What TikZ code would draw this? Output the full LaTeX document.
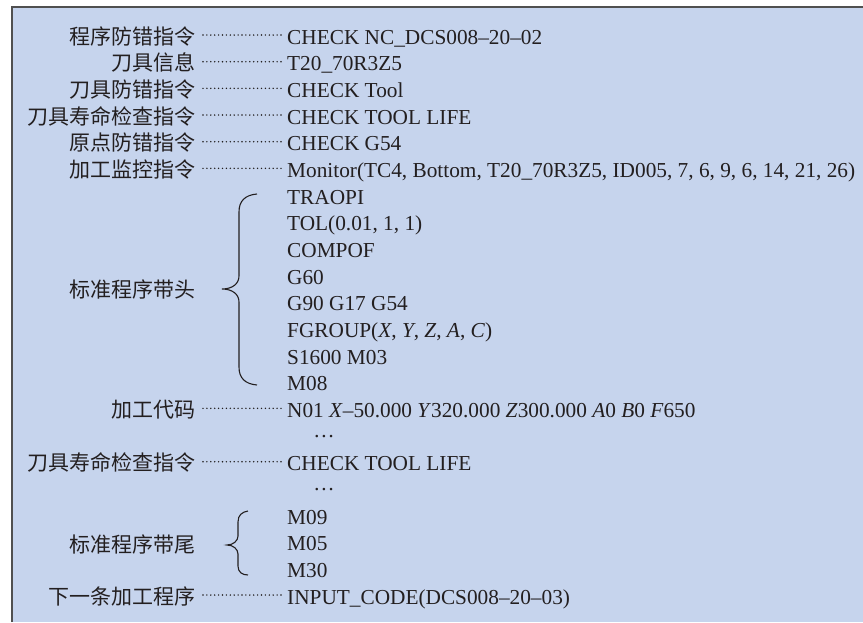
\documentclass[tikz,border=0pt]{standalone}
\usepackage{fontspec}
\setmainfont{Liberation Serif}
\newfontfamily\cjk{Noto Sans CJK SC}
\definecolor{boxfill}{RGB}{198,212,237}
\definecolor{boxline}{RGB}{80,80,80}
\definecolor{txt}{RGB}{35,31,32}
\begin{document}
\begin{tikzpicture}[x=1pt,y=-1pt,
  lab/.style={anchor=east,inner sep=0pt,text height=17pt,text depth=3pt,font=\fontsize{21pt}{24pt}\cjk,text=txt},
  code/.style={anchor=west,inner sep=0pt,text height=17pt,text depth=3pt,font=\fontsize{21.3pt}{24pt}\selectfont,text=txt},
  dotsnode/.style={anchor=base,inner sep=0pt,font=\fontsize{21.3pt}{24pt}\selectfont,text=txt},
  leader/.style={draw=txt,line width=1.6pt,line cap=round,dash pattern=on 0pt off 3.9pt},
  bracepath/.style={draw=txt,line width=1.1pt}]
\useasboundingbox (0,0) rectangle (863,622);
\fill[white] (0,0) rectangle (863,622);
\fill[boxfill] (11,6) rectangle (863,622);
\draw[boxline,line width=2pt] (11.5,622) -- (11.5,6.5) -- (863,6.5);

% rows
\node[lab] (l1) at (196,37) {程序防错指令};
\node[code] (r1) at (287,37) {CHECK NC\_DCS008–20–02};
\node[lab] (l2) at (196,63.7) {刀具信息};
\node[code] (r2) at (287,63.7) {T20\_70R3Z5};
\node[lab] (l3) at (196,90.3) {刀具防错指令};
\node[code] (r3) at (287,90.3) {CHECK Tool};
\node[lab] (l4) at (196,117) {刀具寿命检查指令};
\node[code] (r4) at (287,117) {CHECK TOOL LIFE};
\node[lab] (l5) at (196,143.7) {原点防错指令};
\node[code] (r5) at (287,143.7) {CHECK G54};
\node[lab] (l6) at (196,170.3) {加工监控指令};
\node[code] (r6) at (287,170.3) {Monitor(TC4, Bottom, T20\_70R3Z5, ID005, 7, 6, 9, 6, 14, 21, 26)};
\node[code] (h1) at (287,197) {TRAOPI};
\node[code] (h2) at (287,223.7) {TOL(0.01, 1, 1)};
\node[code] (h3) at (287,250.3) {COMPOF};
\node[code] (h4) at (287,277) {G60};
\node[code] (h5) at (287,303.7) {G90 G17 G54};
\node[code] (h6) at (287,330.3) {FGROUP(\textit{X}, \textit{Y}, \textit{Z}, \textit{A}, \textit{C})};
\node[code] (h7) at (287,357) {S1600 M03};
\node[code] (h8) at (287,383.7) {M08};
\node[lab] (lh) at (196,290) {标准程序带头};
\node[lab] (l15) at (196,410.3) {加工代码};
\node[code] (r15) at (287,410.3) {N01 \textit{X}–50.000 \textit{Y}320.000 \textit{Z}300.000 \textit{A}0 \textit{B}0 \textit{F}650};
\node[dotsnode] (e1) at (324,437) {…};
\node[lab] (l17) at (196,463.7) {刀具寿命检查指令};
\node[code] (r17) at (287,463.7) {CHECK TOOL LIFE};
\node[dotsnode] (e2) at (324,490) {…};
\node[code] (t1) at (287,517) {M09};
\node[code] (t2) at (287,543.7) {M05};
\node[code] (t3) at (287,570.3) {M30};
\node[lab] (lt) at (196,545) {标准程序带尾};
\node[lab] (l22) at (196,597) {下一条加工程序};
\node[code] (r22) at (287,597) {INPUT\_CODE(DCS008–20–03)};

% leaders
\foreach \a/\b in {l1/r1,l2/r2,l3/r3,l4/r4,l5/r5,l6/r6,l15/r15,l17/r17,l22/r22}
  \draw[leader] ([xshift=7pt,yshift=2pt]\a.east) -- ([xshift=-4pt,yshift=2pt]\b.west);

% braces
\draw[bracepath] (257,194) .. controls (245,195) and (239,201) .. (239,212) -- (239,276)
  .. controls (239,284) and (232,289) .. (222,289)
  .. controls (232,289) and (239,294) .. (239,302) -- (239,367)
  .. controls (239,378) and (245,384) .. (257,385);
\draw[bracepath] (248,511) .. controls (242,512) and (238,515) .. (238,522) -- (238,536)
  .. controls (238,541) and (233,545) .. (227,545)
  .. controls (233,545) and (238,549) .. (238,554) -- (238,566)
  .. controls (238,572) and (242,575) .. (248,575);
\end{tikzpicture}
\end{document}
